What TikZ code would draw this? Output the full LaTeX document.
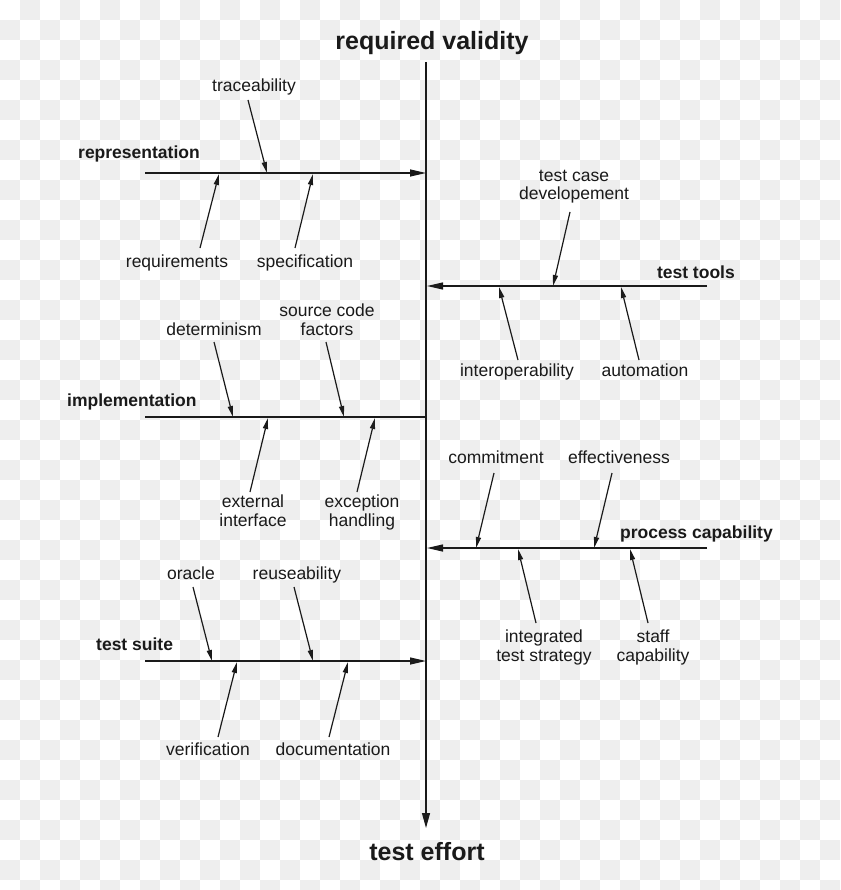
\documentclass[tikz,border=0pt]{standalone}
\usepackage{fontspec}
\setmainfont{Liberation Sans}
\usetikzlibrary{arrows.meta}
\definecolor{checkgray}{HTML}{EEEEEE}
\definecolor{ink}{HTML}{1A1A1A}
\tikzset{
  lbl/.style={inner sep=0pt, anchor=base, align=center, font=\fontsize{17.5}{18.5}\selectfont, text=ink},
  cat/.style={inner sep=0pt, font=\bfseries\fontsize{17.5}{18.5}\selectfont, text=ink},
  ttl/.style={inner sep=0pt, anchor=base, font=\bfseries\fontsize{25}{28}\selectfont, text=ink},
  bone/.style={draw=ink, line width=1.2pt},
  mainarrow/.style={bone, -{Triangle[length=16pt,width=7pt]}},
  subarrow/.style={draw=ink, line width=1.2pt, -{Triangle[length=11pt,width=5pt]}}
}
\begin{document}
\begin{tikzpicture}[x=1pt,y=-1pt]
\useasboundingbox (0,0) rectangle (840,890);
% checkerboard background
\fill[white] (0,0) rectangle (840,890);
\foreach \i in {0,...,41}{
  \foreach \j in {0,...,44}{
    \pgfmathtruncatemacro\parity{mod(\i+\j,2)}
    \ifnum\parity=1
      \fill[checkgray] (\i*20,\j*20) rectangle ++(20,20);
    \fi
  }
}
% titles
\node[ttl] (top) at (432,50) {required validity};
\node[ttl] (bot) at (427,860) {test effort};
% spine
\coordinate (spineT) at (426,62);
\coordinate (spineB) at (426,828);
\draw[bone, -{Triangle[length=15pt,width=8pt]}] (spineT) -- (spineB);

% representation
\coordinate (repL) at (145,173);
\coordinate (repR) at (426,173);
\draw[mainarrow] (repL) -- (repR);
\node[cat, anchor=base west] (rep) at (78,159) {representation};
\node[lbl] (trace) at (254,92) {traceability};
\node[lbl] (req) at (177,268) {requirements};
\node[lbl] (spec) at (305,268) {specification};
\coordinate (traceS) at (248,100); \coordinate (traceE) at (267,173);
\coordinate (reqS) at (200,248);   \coordinate (reqE) at (219,174);
\coordinate (specS) at (295,248);  \coordinate (specE) at (313,174);
\draw[subarrow] (traceS) -- (traceE);
\draw[subarrow] (reqS) -- (reqE);
\draw[subarrow] (specS) -- (specE);

% test tools
\coordinate (toolR) at (707,286);
\coordinate (toolL) at (427,286);
\draw[mainarrow] (toolR) -- (toolL);
\node[cat, anchor=base east] (tools) at (735,279) {test tools};
\node[lbl] (tcd) at (574,200) {test case\\developement};
\node[lbl] (interop) at (517,376) {interoperability};
\node[lbl] (auto) at (645,376) {automation};
\coordinate (tcdS) at (570,212);     \coordinate (tcdE) at (553,286);
\coordinate (interopS) at (518,360); \coordinate (interopE) at (499,287);
\coordinate (autoS) at (639,360);    \coordinate (autoE) at (621,287);
\draw[subarrow] (tcdS) -- (tcdE);
\draw[subarrow] (interopS) -- (interopE);
\draw[subarrow] (autoS) -- (autoE);

% implementation
\coordinate (impL) at (145,417);
\coordinate (impR) at (426,417);
\draw[bone] (impL) -- (impR);
\node[cat, anchor=base west] (imp) at (67,406) {implementation};
\node[lbl] (det) at (214,335) {determinism};
\node[lbl] (scf) at (327,335) {source code\\factors};
\node[lbl] (ext) at (253,526) {external\\interface};
\node[lbl] (exc) at (362,526) {exception\\handling};
\coordinate (detS) at (214,342); \coordinate (detE) at (233,417);
\coordinate (scfS) at (326,342); \coordinate (scfE) at (344,417);
\coordinate (extS) at (250,492); \coordinate (extE) at (268,418);
\coordinate (excS) at (357,492); \coordinate (excE) at (375,418);
\draw[subarrow] (detS) -- (detE);
\draw[subarrow] (scfS) -- (scfE);
\draw[subarrow] (extS) -- (extE);
\draw[subarrow] (excS) -- (excE);

% process capability
\coordinate (procR) at (707,548);
\coordinate (procL) at (427,548);
\draw[mainarrow] (procR) -- (procL);
\node[cat, anchor=base east] (proc) at (773,538) {process capability};
\node[lbl] (com) at (496,463) {commitment};
\node[lbl] (eff) at (619,463) {effectiveness};
\node[lbl] (its) at (544,661) {integrated\\test strategy};
\node[lbl] (staff) at (653,661) {staff\\capability};
\coordinate (comS) at (494,473);   \coordinate (comE) at (476,548);
\coordinate (effS) at (612,473);   \coordinate (effE) at (594,548);
\coordinate (itsS) at (536,623);   \coordinate (itsE) at (518,549);
\coordinate (staffS) at (648,623); \coordinate (staffE) at (630,549);
\draw[subarrow] (comS) -- (comE);
\draw[subarrow] (effS) -- (effE);
\draw[subarrow] (itsS) -- (itsE);
\draw[subarrow] (staffS) -- (staffE);

% test suite
\coordinate (suiteL) at (145,661);
\coordinate (suiteR) at (426,661);
\draw[mainarrow] (suiteL) -- (suiteR);
\node[cat, anchor=base west] (suite) at (96,650) {test suite};
\node[lbl] (ora) at (191,579) {oracle};
\node[lbl] (reuse) at (297,579) {reuseability};
\node[lbl] (veri) at (208,755) {verification};
\node[lbl] (doc) at (333,755) {documentation};
\coordinate (oraS) at (193,587);   \coordinate (oraE) at (212,661);
\coordinate (reuseS) at (294,587); \coordinate (reuseE) at (313,661);
\coordinate (veriS) at (218,737);  \coordinate (veriE) at (237,662);
\coordinate (docS) at (329,737);   \coordinate (docE) at (348,662);
\draw[subarrow] (oraS) -- (oraE);
\draw[subarrow] (reuseS) -- (reuseE);
\draw[subarrow] (veriS) -- (veriE);
\draw[subarrow] (docS) -- (docE);
\end{tikzpicture}
\end{document}
